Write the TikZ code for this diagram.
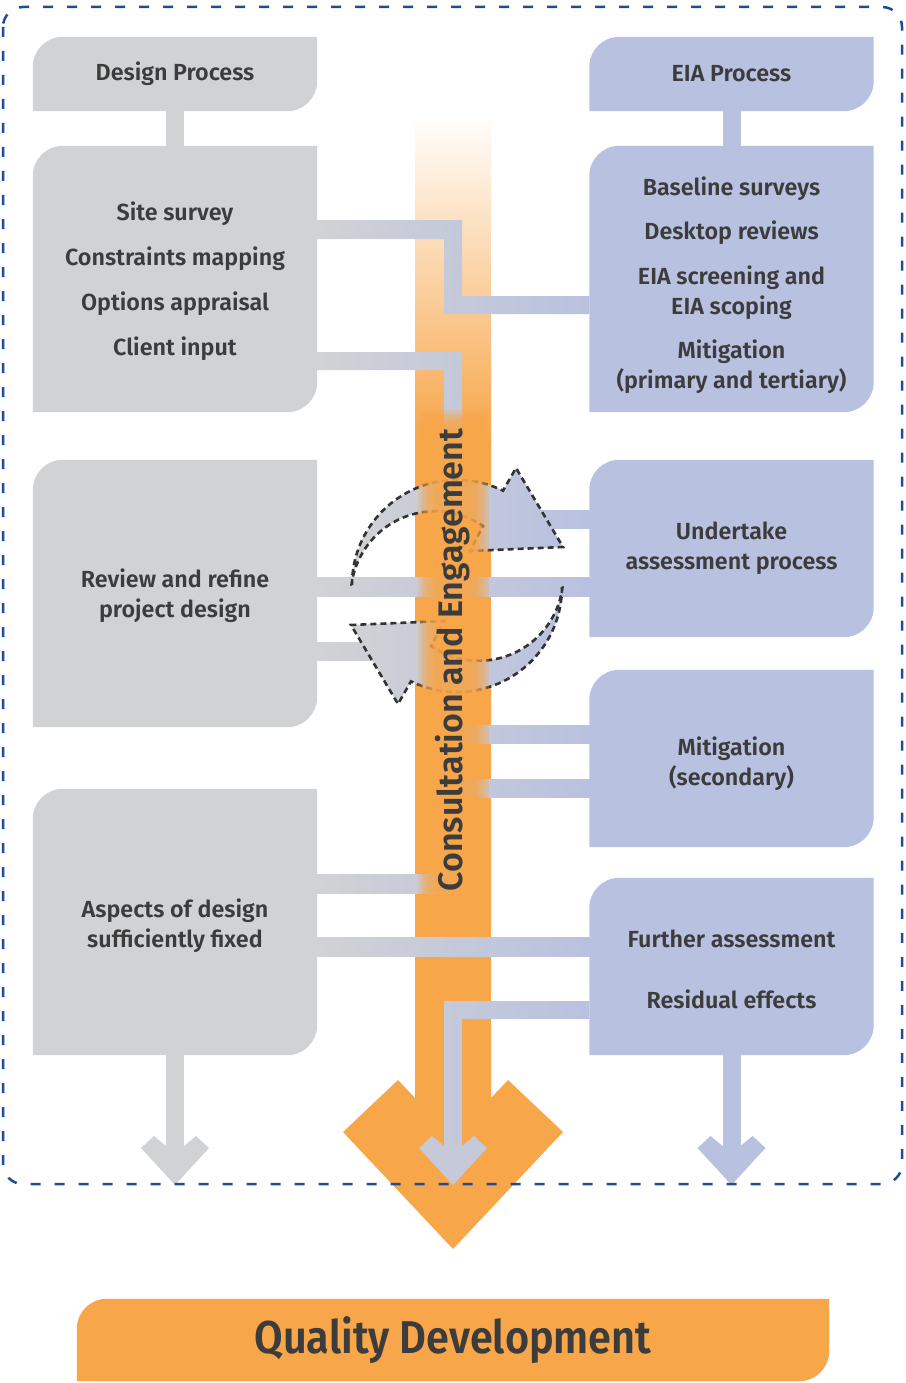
\documentclass[tikz,border=0pt]{standalone}
\usepackage{fontspec}
\IfFontExistsTF{Fira Sans SemiBold}{\setmainfont{Fira Sans}[BoldFont={Fira Sans SemiBold}]}{\setmainfont{Fira Sans}}
\usepackage{xcolor}
\usetikzlibrary{backgrounds,positioning,calc}

\definecolor{dgray}{HTML}{D1D2D4}
\definecolor{eblue}{HTML}{B8C1E0}
\colorlet{cmid}{eblue!50!dgray}
\definecolor{qorange}{HTML}{F7A64A}
\definecolor{txt}{HTML}{3C3C3C}
\definecolor{qblue}{HTML}{1E4C9A}
\definecolor{dashline}{HTML}{333333}

% box with rounded top left and bottom right corners
\newcommand{\boxshape}[3]{%
  \fill[#2] (#1.south west) -- ([yshift=-#3pt]#1.north west) arc[start angle=180, end angle=270, radius=#3]
    -- (#1.north east) -- ([yshift=#3pt]#1.south east) arc[start angle=0, end angle=90, radius=#3] -- cycle;}

\begin{document}
\begin{tikzpicture}[x=1pt, y=-1pt,
    area/.style={inner sep=0pt, minimum width=284pt},
    box/.style={inner sep=0pt, align=center, text=txt, font=\fontsize{23.3}{30}\selectfont\bfseries},
    cycarrow/.style={draw=dashline, line width=2.6pt, dash pattern=on 6pt off 4pt, left color=dgray, right color=eblue}]
\useasboundingbox (0,0) rectangle (905,1383);

% design process
\node[area, minimum height=74pt] (dp) at (175,74) {};
\node[area, minimum height=266pt] (ds) at (175,279) {};
\node[area, minimum height=267pt] (dr) at (175,593.5) {};
\node[area, minimum height=266pt] (da) at (175,922) {};
\node[box] (dp-t) at (dp) {Design Process};
\node[box] (ds-t) at ([yshift=-2.5pt]ds.center) {Site survey\\[15pt]Constraints mapping\\[15pt]Options appraisal\\[15pt]Client input};
\node[box] (dr-t) at ([yshift=-2.5pt]dr.center) {Review and refine\\project design};
\node[box] (da-t) at ([yshift=-4pt]da.center) {Aspects of design\\sufficiently fixed};

% EIA process
\node[area, minimum height=74pt] (eh) at (731.5,74) {};
\node[area, minimum height=266pt] (eb) at (731.5,279) {};
\node[area, minimum height=177pt] (eu) at (731.5,548.5) {};
\node[area, minimum height=177pt] (em) at (731.5,758.5) {};
\node[area, minimum height=177pt] (ef) at (731.5,966.5) {};
\node[box] (eh-t) at (eh) {EIA Process};
\node[box] (eb-t) at ([yshift=-6.5pt]eb.center) {Baseline surveys\\[14pt]Desktop reviews\\[15pt]EIA screening and\\EIA scoping\\[14pt]Mitigation\\(primary and tertiary)};
\node[box] (eu-t) at (eu) {Undertake\\assessment process};
\node[box] (em-t) at ([yshift=-5.5pt]em.center) {Mitigation\\(secondary)};
\node[box] (ef-t) at ([yshift=-2.5pt]ef.center) {Further assessment\\[31pt]Residual effects};

\node[area, minimum width=752pt, minimum height=82pt] (qd) at (453,1340) {};
\node[box, font=\fontsize{46}{52}\selectfont\bfseries] (qd-t) at (qd) {\scalebox{0.9}[1]{Quality Development}};

\node[rotate=90, text=txt, font=\fontsize{34}{40}\selectfont\bfseries] (ce) at (453,660) {Consultation and Engagement};

\begin{scope}[on background layer]
  % orange column
  \shade[top color=qorange!3, bottom color=qorange] (415,122) rectangle (491,441);
  \fill[qorange] (415,440) -- (415,1098) -- (398,1080) -- (343,1132) -- (453,1249) -- (563,1132) -- (508,1080) -- (491,1098) -- (491,440) -- cycle;

  \foreach \n in {dp,ds,dr,da} {\boxshape{\n}{dgray}{30}}
  \foreach \n in {eh,eb,eu,em,ef} {\boxshape{\n}{eblue}{30}}
  \boxshape{qd}{qorange}{30}

  \draw[dgray, line width=18pt] (dp.south) -- (ds.north);
  \draw[eblue, line width=18pt] (eh.south) -- (eb.north);

  % links between the two sides
  \shade[left color=dgray, right color=eblue] (ds.east |- 0,220) -- (462,220) -- (462,296) -- (eb.west |- 0,296)
    -- (eb.west |- 0,314) -- (444,314) -- (444,239) -- (ds.east |- 0,239) -- cycle;
  \shade[left color=dgray, right color=eblue!53!dgray] (ds.east |- 0,352) -- (462,352) -- (462,448) -- (444,448)
    -- (444,370) -- (ds.east |- 0,370) -- cycle;
  \shade[left color=dgray, right color=eblue] (dr.east |- 0,577) rectangle (eu.west |- 0,596);
  \shade[left color=dgray, right color=eblue!27!dgray] (dr.east |- 0,642) rectangle (392,660);
  \shade[left color=eblue!80!dgray, right color=eblue] (535,510) rectangle (eu.west |- 0,528);
  \shade[left color=eblue!53!dgray, right color=eblue] (462,725) rectangle (em.west |- 0,743);
  \shade[left color=eblue!53!dgray, right color=eblue] (462,779) rectangle (em.west |- 0,797);
  \shade[left color=dgray, right color=eblue!50!dgray] (da.east |- 0,874) rectangle (452,893);
  \shade[left color=dgray, right color=eblue] (da.east |- 0,937) rectangle (ef.west |- 0,956);
  \shade[left color=eblue!47!dgray, right color=eblue] (ef.west |- 0,1001) -- (444,1001) -- (444,1150) -- (462,1150)
    -- (462,1019) -- (ef.west |- 0,1019) -- cycle;

  % outputs
  \draw[dgray, line width=18pt] (da.south) -- (da.south |- 0,1150);
  \draw[eblue, line width=18pt] (ef.south) -- (ef.south |- 0,1150);
  \foreach \x/\c in {175/dgray, 453/cmid, 731.5/eblue}
    {\fill[\c] (\x-9,1146) -- (\x-21,1136) -- (\x-34,1148) -- (\x,1185) -- (\x+34,1148) -- (\x+21,1136) -- (\x+9,1146) -- cycle;}

  % iteration loop
  \path[cycarrow] (352,585) arc[start angle=180, end angle=296, radius=105] -- (516,468) -- (563,547) -- (470,551)
    -- (483,526) arc[start angle=-55.6, end angle=-172.5, radius=84.5] -- cycle;
  \path[cycarrow] (562,587) arc[start angle=0, end angle=116, radius=105] -- (398,704) -- (351,625) -- (444,621)
    -- (431,646) arc[start angle=124.4, end angle=7.5, radius=84.5] -- cycle;

  % glow behind the column text
  \foreach \i in {0,...,7}
    {\fill[qorange, opacity=0.25] (418+2.5*\i,410+2.5*\i) rectangle (489-2.5*\i,908-2.5*\i);}
\end{scope}

\draw[qblue, line width=2.5pt, dash pattern=on 10pt off 14pt, rounded corners=20pt] (3,7) rectangle (902,1184);
\end{tikzpicture}
\end{document}
